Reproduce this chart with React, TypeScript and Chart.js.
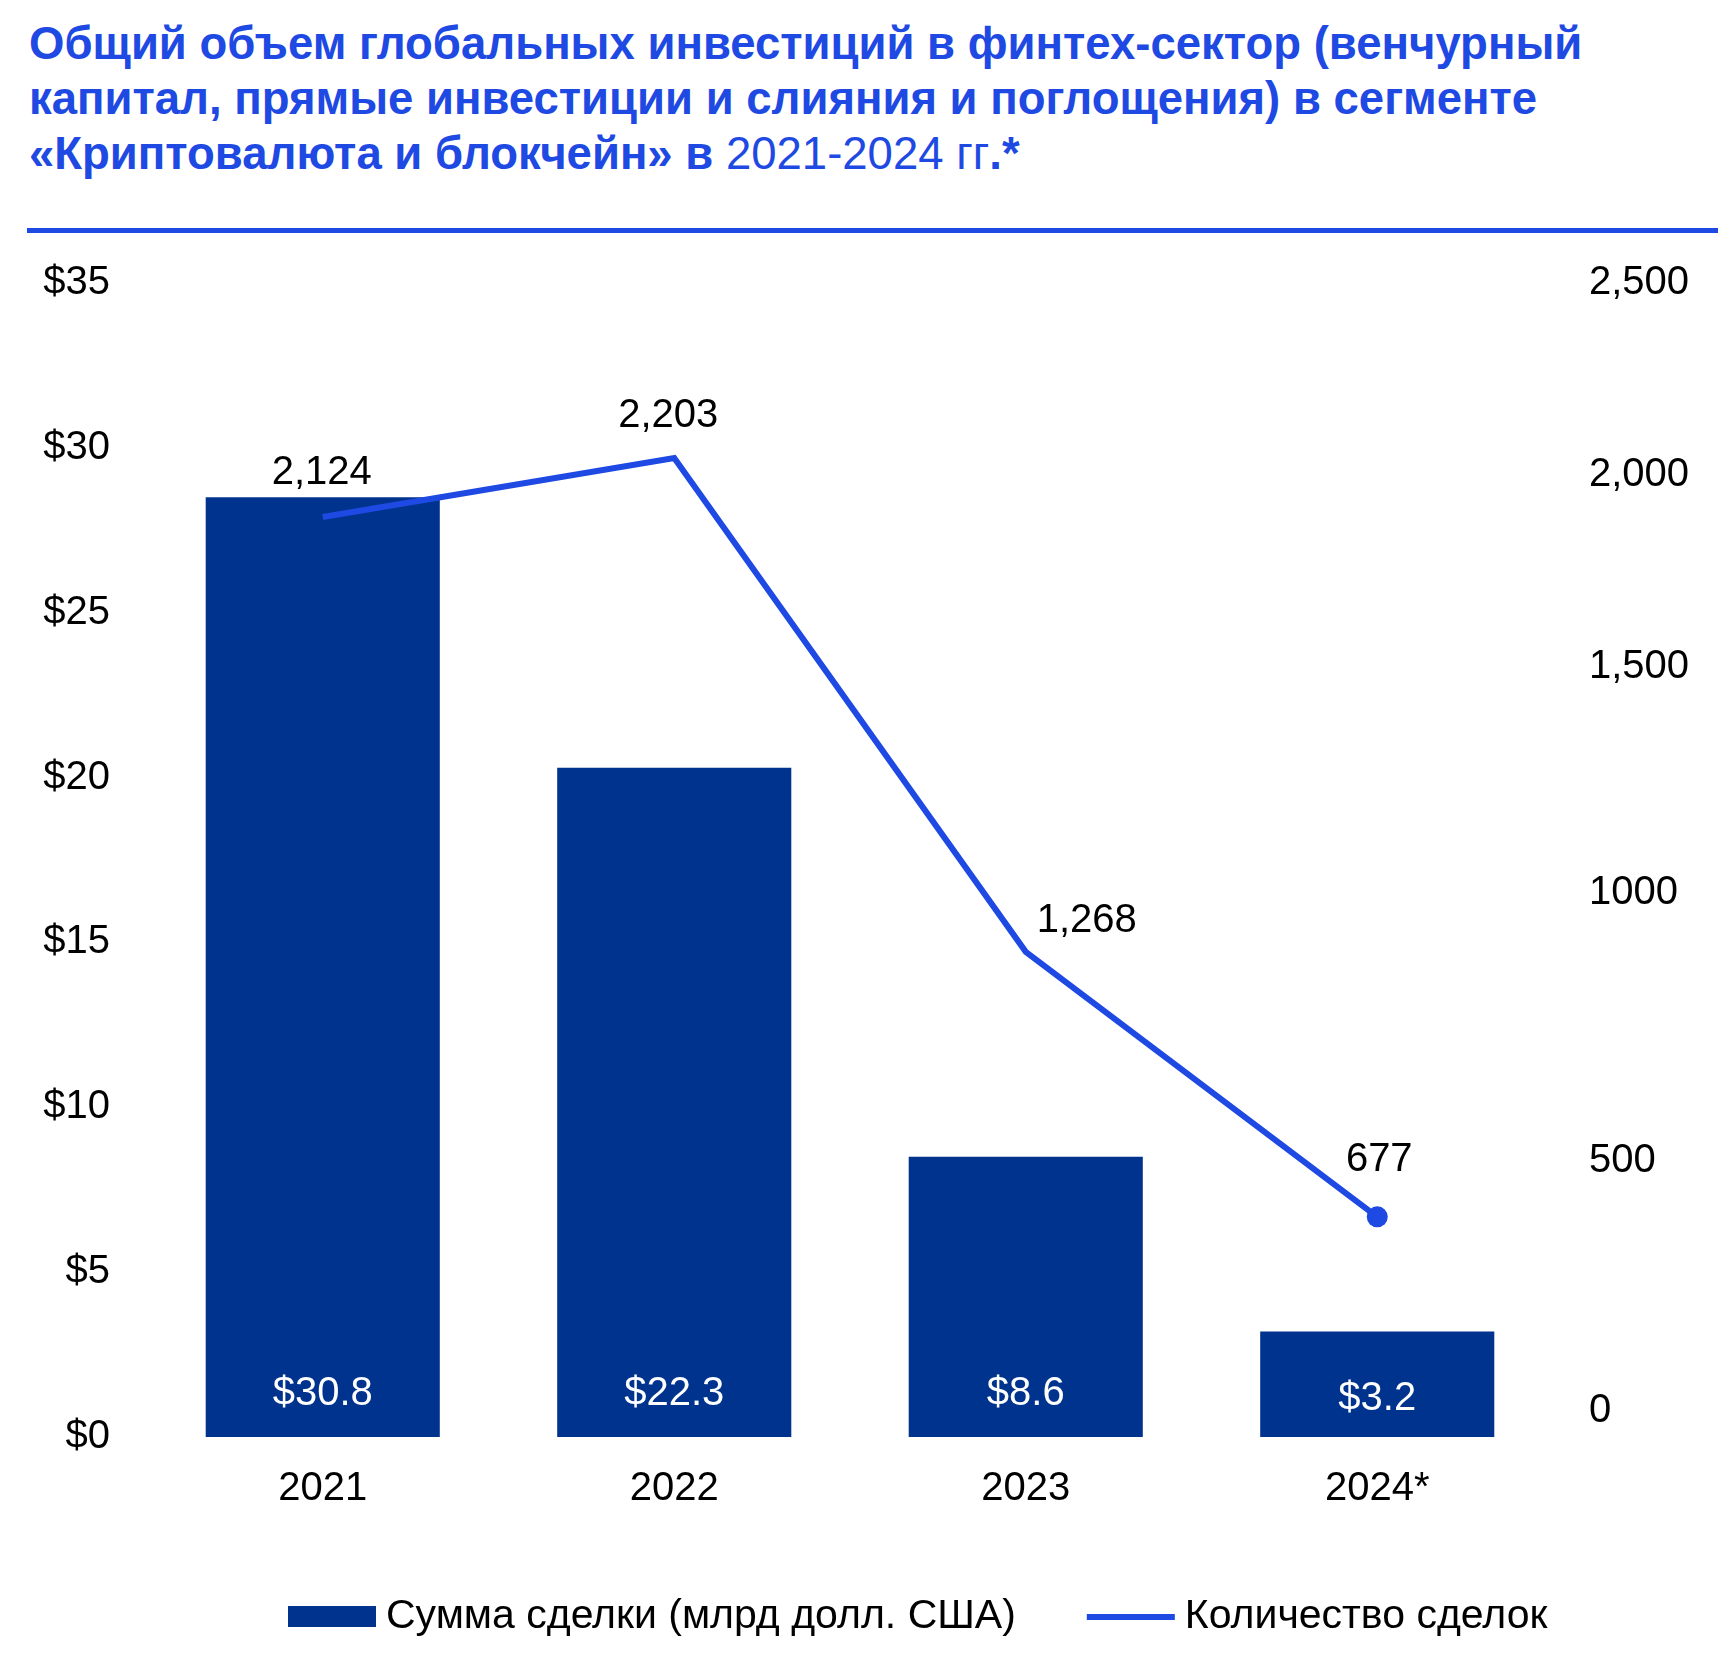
import React, { useEffect, useRef } from 'react';
import { Chart, registerables } from 'chart.js';

Chart.register(...registerables);

// ---- data ----
const categories = ['2021', '2022', '2023', '2024*'];
// plotted bar heights (left axis, $ bn) as drawn in the picture
const dealVolume = [28.5, 20.3, 8.5, 3.2];
// printed value labels of the bars
const dealVolumeLabels = ['$30.8', '$22.3', '$8.6', '$3.2'];
// plotted line heights (right axis) as drawn in the picture
const dealCount = [1993, 2121, 1051, 477];
// printed value labels of the line
const dealCountLabels = ['2,124', '2,203', '1,268', '677'];
// axis ticks
const leftTickValues = [0, 5, 10, 15, 20, 25, 30, 35];
const rightTickValues = [56, 598, 1178, 1668, 2084, 2500];
const rightTickLabels = ['0', '500', '1000', '1,500', '2,000', '2,500'];
const seriesNames = ['Сумма сделки (млрд долл. США)', 'Количество сделок'];

const FONT = '"Liberation Sans", Arial, Helvetica, sans-serif';
const NAVY = '#00338D';
const COBALT = '#1E49E2';

const labelsPlugin = {
  id: 'valueLabels',
  afterDatasetsDraw(chart: any, _args: any, opts: any) {
    const ctx = chart.ctx;
    ctx.save();
    ctx.font = `40px ${FONT}`;
    ctx.textAlign = 'center';
    ctx.textBaseline = 'middle';
    const barMeta = chart.getDatasetMeta(0);
    barMeta.data.forEach((el: any, i: number) => {
      ctx.fillStyle = '#FFFFFF';
      ctx.fillText(dealVolumeLabels[i], el.x, el.base - opts.barLabelLift[i]);
    });
    const lineMeta = chart.getDatasetMeta(1);
    lineMeta.data.forEach((el: any, i: number) => {
      const [dx, dy] = opts.lineLabelOffsets[i];
      ctx.fillStyle = '#000000';
      ctx.fillText(dealCountLabels[i], el.x + dx, el.y + dy);
    });
    ctx.restore();
  },
};

const legendPlugin = {
  id: 'customLegend',
  afterDraw(chart: any, _args: any, opts: any) {
    const ctx = chart.ctx;
    ctx.save();
    ctx.font = `${opts.fontSize}px ${FONT}`;
    ctx.textBaseline = 'middle';
    ctx.textAlign = 'left';
    let x = opts.x;
    const cy = opts.y;
    chart.data.datasets.forEach((ds: any) => {
      if (ds.type === 'line') {
        ctx.fillStyle = ds.borderColor;
        ctx.fillRect(x, cy - 3, opts.swatchWidth, 6);
      } else {
        ctx.fillStyle = ds.backgroundColor;
        ctx.fillRect(x, cy - 11, opts.swatchWidth, 21);
      }
      x += opts.swatchWidth + opts.textGap;
      ctx.fillStyle = '#000000';
      ctx.fillText(ds.label, x, cy);
      x += ctx.measureText(ds.label).width + opts.itemGap;
    });
    ctx.restore();
  },
};

export default function App() {
  const ref = useRef<HTMLCanvasElement | null>(null);

  useEffect(() => {
    if (!ref.current) return;
    const chart = new Chart(ref.current, {
      type: 'bar',
      data: {
        labels: categories,
        datasets: [
          {
            type: 'bar',
            label: seriesNames[0],
            data: dealVolume,
            backgroundColor: NAVY,
            borderWidth: 0,
            yAxisID: 'y',
            categoryPercentage: 1,
            barPercentage: 0.666,
            order: 1,
          },
          {
            type: 'line',
            label: seriesNames[1],
            data: dealCount,
            borderColor: COBALT,
            backgroundColor: COBALT,
            borderWidth: 6,
            tension: 0,
            pointRadius: [0, 0, 0, 10.5],
            pointHoverRadius: [0, 0, 0, 10.5],
            pointBackgroundColor: COBALT,
            pointBorderWidth: 0,
            yAxisID: 'y1',
            order: 0,
          } as any,
        ],
      },
      options: {
        responsive: false,
        animation: false,
        devicePixelRatio: 1,
        layout: { padding: { top: 283, left: 0, right: 0, bottom: 0 } },
        plugins: {
          legend: { display: false },
          tooltip: { enabled: false },
          title: { display: false },
          valueLabels: {
            barLabelLift: [43, 43, 43, 38],
            lineLabelOffsets: [[-1, -44], [-6, -42], [61, -31], [2, -57]],
          },
          customLegend: { x: 288, y: 1617, fontSize: 41, swatchWidth: 88, textGap: 10, itemGap: 71 },
        } as any,
        scales: {
          x: {
            grid: { display: false, drawTicks: false },
            border: { display: false },
            ticks: {
              color: '#000000',
              font: { family: FONT, size: 40 },
              padding: 28,
            },
            afterFit: (s: any) => {
              s.height = 229;
            },
          },
          y: {
            position: 'left',
            min: 0,
            max: 35,
            grid: { display: false, drawTicks: false },
            border: { display: false },
            afterBuildTicks: (s: any) => {
              s.ticks = leftTickValues.map((v) => ({ value: v }));
            },
            ticks: {
              color: '#000000',
              font: { family: FONT, size: 40 },
              padding: 37,
              callback: (v: any) => '$' + v,
            },
            afterFit: (s: any) => {
              s.width = 147;
            },
          },
          y1: {
            position: 'right',
            min: 0,
            max: 2500,
            grid: { display: false, drawTicks: false },
            border: { display: false },
            afterBuildTicks: (s: any) => {
              s.ticks = rightTickValues.map((v) => ({ value: v }));
            },
            ticks: {
              color: '#000000',
              font: { family: FONT, size: 40 },
              padding: 36,
              crossAlign: 'near',
              callback: (_v: any, i: number) => rightTickLabels[i],
            },
            afterFit: (s: any) => {
              s.width = 168;
            },
          },
        },
      },
      plugins: [labelsPlugin, legendPlugin],
    } as any);

    return () => chart.destroy();
  }, []);

  return (
    <div style={{ position: 'absolute', left: 0, top: 0, width: 1721, height: 1666, background: '#FFFFFF', overflow: 'hidden' }}>
      <div
        style={{
          position: 'absolute',
          left: 29,
          top: 16,
          fontFamily: FONT,
          fontWeight: 'bold',
          fontSize: 45.5,
          lineHeight: '55px',
          color: COBALT,
          whiteSpace: 'nowrap',
        }}
      >
        Общий объем глобальных инвестиций в финтех-сектор (венчурный
        <br />
        капитал, прямые инвестиции и слияния и поглощения) в сегменте
        <br />
        «Криптовалюта и блокчейн» в <span style={{ fontWeight: 'normal' }}>2021-2024 гг</span>.*
      </div>
      <div style={{ position: 'absolute', left: 27, top: 228, width: 1691, height: 5, background: COBALT }} />
      <canvas ref={ref} width={1721} height={1666} style={{ position: 'absolute', left: 0, top: 0, width: 1721, height: 1666 }} />
    </div>
  );
}
